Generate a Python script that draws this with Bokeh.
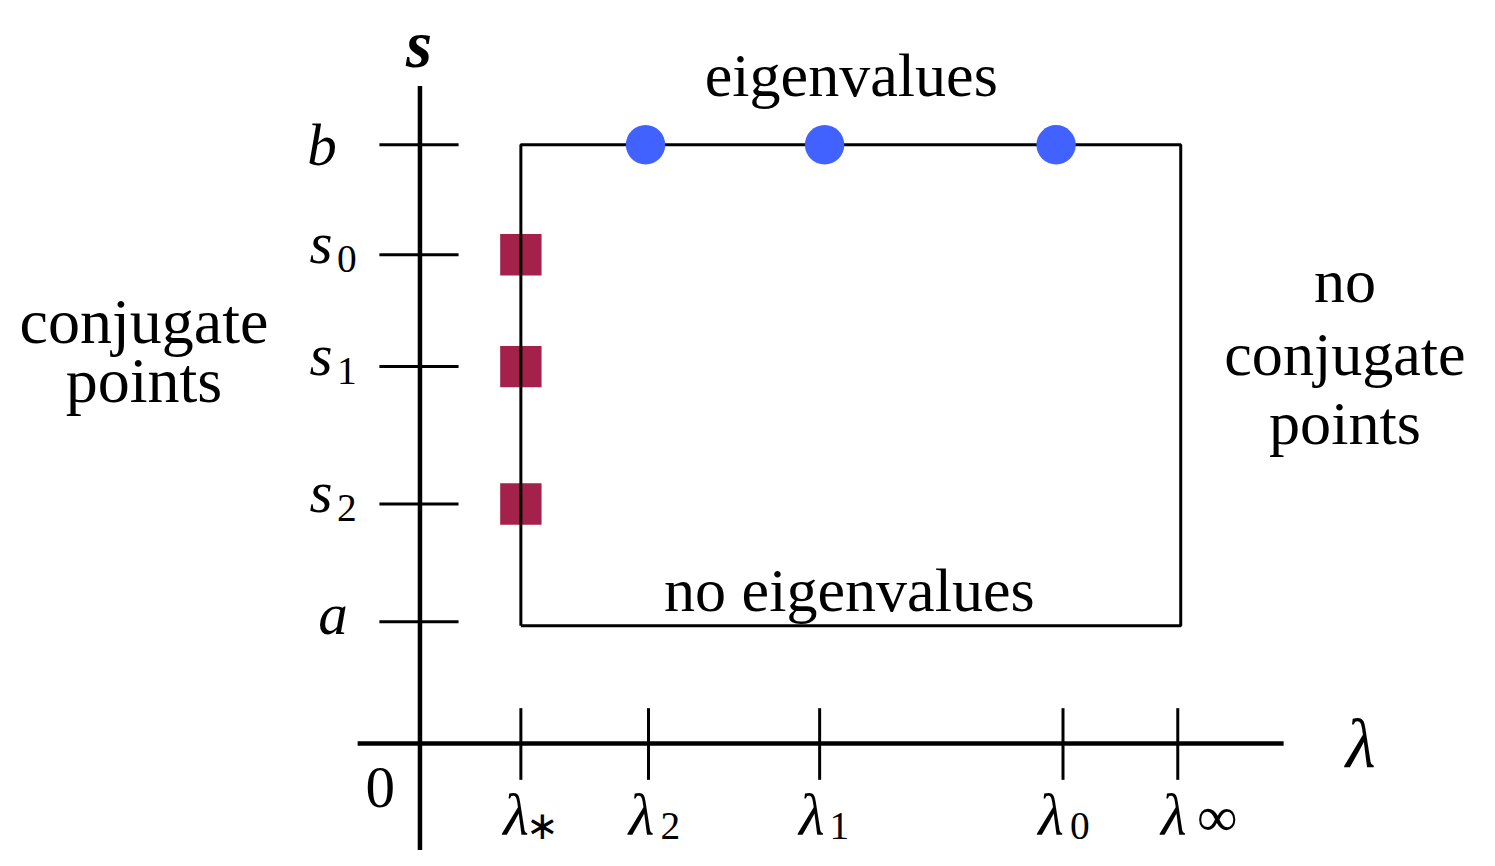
from bokeh.plotting import figure
from bokeh.models import Range1d
from bokeh.core.properties import value
from bokeh.embed import file_html
from bokeh.resources import INLINE

# ---- data (diagram coordinates; origin at the axes crossing) ----
lam_subs = ["∗", "2", "1", "0", "∞"]
lam_ticks = [102, 231, 404, 650, 766]
s_names = ["b", "s", "s", "s", "a"]
s_subs = ["", "0", "1", "2", ""]
s_ticks = [610, 498, 384, 244, 124]
eig_lam = [228, 409, 643]          # eigenvalues on s = b
conj_lam = [102, 102, 102]          # conjugate points on lambda = lambda_*
conj_s = [498, 384, 244]
box_lam = [102, 769]
box_s = [120, 610]
axis_s_extent = [-120, 670]
axis_lam_extent = [-63, 873]

SERIF = value("Liberation Serif")
W, H = 1479, 850
SC = 0.985          # overall scale of the drawing to fit the window
BASE_FIX = 0.35     # vertical correction of the text baseline (fraction of font size)

p = figure(width=W, height=H, x_range=Range1d(-424, 1071), y_range=Range1d(-109, 757),
           x_axis_type=None, y_axis_type=None, toolbar_location=None,
           output_backend="svg", min_border=0, outline_line_color=None)
p.grid.visible = False
p.background_fill_color = "white"
p.border_fill_color = "white"

# conjugate points (under the box line)
p.scatter(x=conj_lam, y=conj_s, marker="square", size=42 * SC, fill_color="#A3214A",
          line_color=None)

# box
bx = [box_lam[0], box_lam[0], box_lam[1], box_lam[1], box_lam[0]]
by = [box_s[0], box_s[1], box_s[1], box_s[0], box_s[0]]
p.line(x=bx, y=by, line_color="black", line_width=3)

# axes
p.line(x=[0, 0], y=axis_s_extent, line_color="black", line_width=4.5)
p.line(x=axis_lam_extent, y=[0, 0], line_color="black", line_width=4.5)

# ticks
p.segment(x0=[-41] * len(s_ticks), x1=[39] * len(s_ticks), y0=s_ticks, y1=s_ticks,
          line_color="black", line_width=3)
p.segment(x0=lam_ticks, x1=lam_ticks, y0=[36] * len(lam_ticks), y1=[-37] * len(lam_ticks),
          line_color="black", line_width=3)

# eigenvalues
p.scatter(x=eig_lam, y=[box_s[1]] * len(eig_lam), marker="circle", size=40 * SC,
          fill_color="#4262FF", line_color=None)

def txt(x, y, t, size, style="normal"):
    p.text(x=[x], y=[y + BASE_FIX * size], text=[t], text_font=SERIF,
           text_font_size=f"{size * SC:.1f}px",
           text_font_style=style, text_align="center", text_baseline="alphabetic",
           text_color="black")

# axis labels
txt(-1, 689, "s", 68, "bold italic")
txt(951, -25, "λ", 70, "italic")
txt(-40, -66, "0", 60)

# s tick labels
main_dx = {"b": -99, "s": -100, "a": -88}
main_dy = {"b": -21, "s": -9, "a": -13}
for name, sub, t in zip(s_names, s_subs, s_ticks):
    txt(main_dx[name], t + main_dy[name], name, 60, "italic")
    if sub:
        txt(-74, t - 18, sub, 40)

# lambda tick labels
lam_dx = {"∗": -5, "2": -7, "1": -8, "0": -12, "∞": -4}
sub_dx = {"∗": 22, "2": 22, "1": 20, "0": 17, "∞": 40}
sub_size = {"∗": 40, "2": 40, "1": 40, "0": 40, "∞": 58}
sub_dy = {"∗": -98, "2": -98, "1": -98, "0": -98, "∞": -95}
for sub, t in zip(lam_subs, lam_ticks):
    txt(t + lam_dx[sub], -94, "λ", 60, "italic")
    txt(t + sub_dx[sub], sub_dy[sub], sub, sub_size[sub])

# region annotations
txt(436, 659, "eigenvalues", 63)
txt(434, 134, "no eigenvalues", 63)
txt(-279, 407, "conjugate", 65)
txt(-279, 347, "points", 65)
txt(935, 449, "no", 63)
txt(935, 375, "conjugate", 63)
txt(935, 304, "points", 63)

open("out.html", "w").write(file_html(p, INLINE))
